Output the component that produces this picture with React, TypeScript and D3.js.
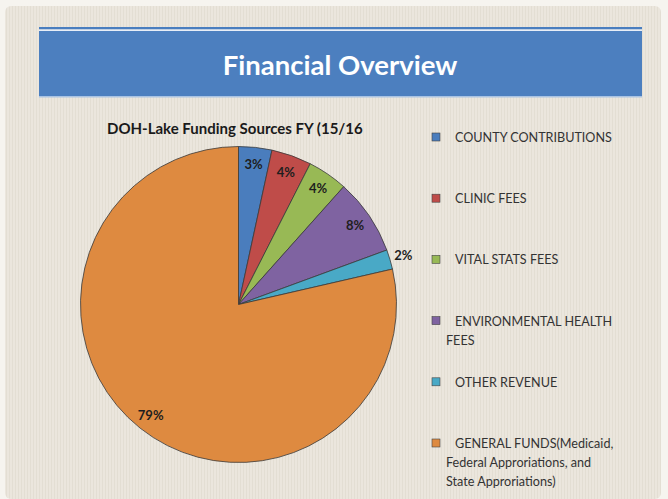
import React from "react";
import * as d3 from "d3";

const categories = [
  "COUNTY CONTRIBUTIONS",
  "CLINIC FEES",
  "VITAL STATS FEES",
  "ENVIRONMENTAL HEALTH FEES",
  "OTHER REVENUE",
  "GENERAL FUNDS(Medicaid, Federal Approriations, and State Approriations)",
];
const values = [3.4, 4.1, 4.1, 7.8, 2.0, 78.6];
const percentLabels = ["3%", "4%", "4%", "8%", "2%", "79%"];
const legendLines = [
  ["COUNTY CONTRIBUTIONS"],
  ["CLINIC FEES"],
  ["VITAL STATS FEES"],
  ["ENVIRONMENTAL HEALTH", "FEES"],
  ["OTHER REVENUE"],
  ["GENERAL FUNDS(Medicaid,", "Federal Approriations, and", "State Approriations)"],
];
const colors = ["#4a7dbd", "#bf4c49", "#98b955", "#7f63a1", "#49a9c6", "#de8a40"];

const W = 668;
const H = 499;
const FONT = "Lato, 'Open Sans', sans-serif";

export default function App() {
  const cx = 238.5;
  const cy = 304.5;
  const r = 158;
  const pie = d3.pie<number>().sort(null).value((d) => d);
  const arcs = pie(values);
  const arc = d3.arc<d3.PieArcDatum<number>>().innerRadius(0).outerRadius(r);
  const labelArcIn = d3.arc<d3.PieArcDatum<number>>().innerRadius(141).outerRadius(141);
  const labelArcOut = d3.arc<d3.PieArcDatum<number>>().innerRadius(172).outerRadius(172);

  const legendY = d3.scalePoint<number>().domain(d3.range(categories.length)).range([138, 444]);

  return (
    <svg
      width={W}
      height={H}
      style={{ position: "absolute", left: 0, top: 0, display: "block" }}
      fontFamily={FONT}
    >
      <defs>
        <pattern id="stripes" width="3" height="10" patternUnits="userSpaceOnUse">
          <rect width="3" height="10" fill="#ebe6dd" />
          <rect x="0" width="1" height="10" fill="#e3ded3" />
        </pattern>
      </defs>
      <rect width={W} height={H} fill="#f6f4ef" />
      <rect x={5} y={6} width={656} height={H - 6} rx={6} fill="url(#stripes)" />

      {/* banner */}
      <rect x={39} y={27} width={603} height={2.5} fill="#4a7ebf" />
      <rect x={39} y={29.5} width={603} height={1.5} fill="#e8eef7" />
      <rect x={39} y={31} width={603} height={66} fill="#4c7fbf" />
      <rect x={39} y={96} width={603} height={1.5} fill="#a9c3e3" />
      <text x={340} y={75} textAnchor="middle" fill="#ffffff" fontSize={27.5} fontWeight={700}>
        Financial Overview
      </text>

      <text x={107} y={134} fill="#1a1a1a" fontSize={15} fontWeight={700}>
        DOH-Lake Funding Sources FY (15/16
      </text>

      <g transform={`translate(${cx},${cy})`}>
        {arcs.map((a, i) => (
          <path key={i} d={arc(a) || ""} fill={colors[i]} stroke="#3a3a3a" strokeWidth={0.8} />
        ))}
        {arcs.map((a, i) => {
          const [x, y] = (i === 4 ? labelArcOut : labelArcIn).centroid(a);
          return (
            <text
              key={"l" + i}
              x={x}
              y={y}
              textAnchor="middle"
              dominantBaseline="central"
              fontSize={13}
              fontWeight={700}
              fill="#1e1e1e"
            >
              {percentLabels[i]}
            </text>
          );
        })}
      </g>

      {legendLines.map((lines, i) => {
        const y = legendY(i) as number;
        return (
          <g key={"g" + i}>
            <rect x={432} y={y - 5} width={8} height={8} fill={colors[i]} stroke="#444" strokeWidth={0.6} />
            {lines.map((ln, j) => (
              <text
                key={j}
                x={j === 0 ? 455 : 446}
                y={y + 4 + j * 19}
                fontSize={12.6}
                fill="#333"
              >
                {ln}
              </text>
            ))}
          </g>
        );
      })}
    </svg>
  );
}
